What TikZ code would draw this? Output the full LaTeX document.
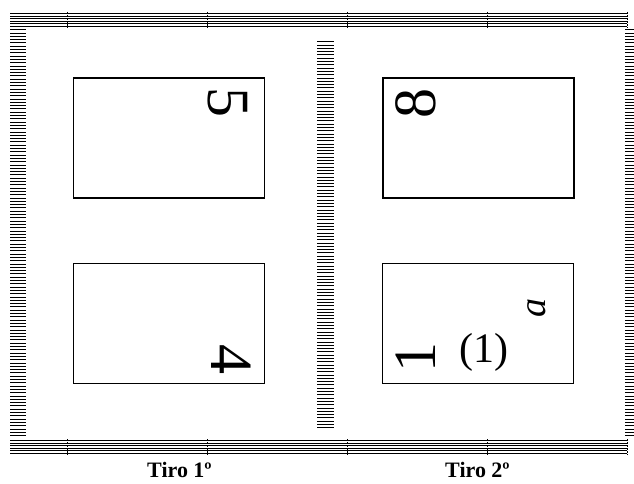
\documentclass[tikz,border=0pt]{standalone}
\usepackage{fontspec}
\setmainfont{Liberation Serif}
\begin{document}
\begin{tikzpicture}[x=1pt,y=-1pt,
  pagebox/.style={draw, line width=1.2pt, minimum width=191pt, minimum height=120pt, inner sep=0pt},
  hline/.style={line width=0.6pt},
  sline/.style={line width=0.55pt},
  tickmark/.style={line width=1pt, dash pattern=on 2pt off 1pt},
  bignum/.style={font=\fontsize{60}{60}\selectfont, inner sep=0pt},
  lbl/.style={font=\fontsize{22}{22}\selectfont\bfseries, inner sep=0pt}]
\useasboundingbox (0,0) rectangle (634,484);
% bands
\foreach \y in {13.5,16,18.5,21,23.5,26} \draw[hline] (10,\y) -- (627,\y);
\foreach \y in {440.5,443,445.5,448,450.5,453} \draw[hline] (10,\y) -- (627,\y);
\foreach \x in {67,207,347,487,627} {
  \draw[tickmark] (\x,12) -- (\x,27.5);
  \draw[tickmark] (\x,439) -- (\x,454.5);
}
% strips
\foreach \y in {29.5,32.8,...,437} \draw[sline] (10,\y) -- (25.5,\y);
\foreach \y in {41.5,44.8,...,430} \draw[sline] (317,\y) -- (334,\y);
\foreach \y in {29.5,32.8,...,437} \draw[sline] (625,\y) -- (634,\y);
% pages
\node[pagebox] (p5) at (169,138) {};
\node[pagebox] (p8) at (478.5,138) {};
\node[pagebox] (p4) at (169,323.5) {};
\node[pagebox] (p1) at (478,323.5) {};
\node[bignum, rotate=-90] (n5) at (228,103) {5};
\node[bignum, rotate=90] (n8) at (416,103) {8};
\node[bignum, rotate=-90] (n4) at (231,359) {4};
\node[bignum, rotate=90] (n1) at (416,357) {1};
\node[font=\fontsize{42}{42}\selectfont, inner sep=0pt] (paren) at (484,352) {(1)};
\node[font=\fontsize{38}{38}\selectfont\itshape, inner sep=0pt, rotate=90] (na) at (537,308) {a};
% labels
\node[lbl] (t1) at (179.5,470) {Tiro 1º};
\node[lbl] (t2) at (477.5,470) {Tiro 2º};
\end{tikzpicture}
\end{document}
